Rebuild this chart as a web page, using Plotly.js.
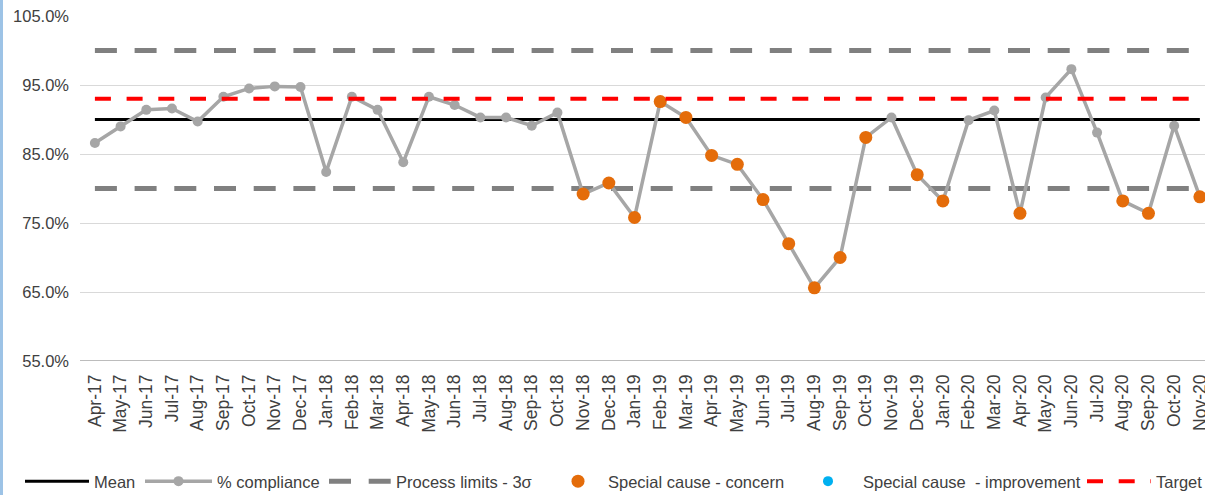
<!DOCTYPE html>
<html>
<head>
<meta charset="utf-8">
<script src="https://cdn.plot.ly/plotly-3.0.1.min.js"></script>
<style>
  html, body { margin: 0; padding: 0; background: #fff; }
  #wrap { position: relative; width: 1205px; height: 495px; overflow: hidden; }
  #chart { position: absolute; left: 0; top: 0; width: 1205px; height: 495px; }
  #bar { position: absolute; left: 0; top: 0; width: 3px; height: 495px; background: #9DC3E6; }
</style>
</head>
<body>
<div id="wrap"><div id="chart"></div><div id="bar"></div></div>
<script>
const months = ["Apr-17","May-17","Jun-17","Jul-17","Aug-17","Sep-17","Oct-17","Nov-17","Dec-17",
  "Jan-18","Feb-18","Mar-18","Apr-18","May-18","Jun-18","Jul-18","Aug-18","Sep-18","Oct-18","Nov-18","Dec-18",
  "Jan-19","Feb-19","Mar-19","Apr-19","May-19","Jun-19","Jul-19","Aug-19","Sep-19","Oct-19","Nov-19","Dec-19",
  "Jan-20","Feb-20","Mar-20","Apr-20","May-20","Jun-20","Jul-20","Aug-20","Sep-20","Oct-20","Nov-20"];

const compliance = [86.6, 89.0, 91.4, 91.6, 89.7, 93.3, 94.5, 94.8, 94.7,
  82.4, 93.3, 91.4, 83.8, 93.3, 92.1, 90.3, 90.3, 89.1, 91.0, 79.2, 80.8,
  75.8, 92.6, 90.3, 84.8, 83.5, 78.4, 72.0, 65.6, 70.0, 87.4, 90.3, 82.0,
  78.2, 89.9, 91.3, 76.4, 93.2, 97.3, 88.1, 78.2, 76.4, 89.1, 78.8];

const concern = [null, null, null, null, null, null, null, null, null,
  null, null, null, null, null, null, null, null, null, null, 79.2, 80.8,
  75.8, 92.6, 90.3, 84.8, 83.5, 78.4, 72.0, 65.6, 70.0, 87.4, null, 82.0,
  78.2, null, null, 76.4, null, null, null, 78.2, 76.4, null, 78.8];

const improvement = months.map(() => null);

const meanValue = 90.0;
const upperLimit = 100.0;
const lowerLimit = 80.0;
const targetValue = 93.0;

const meanLine = months.map(() => meanValue);
const upperLine = months.map(() => upperLimit);
const lowerLine = months.map(() => lowerLimit);
const targetLine = months.map(() => targetValue);

const yTicks = [55, 65, 75, 85, 95, 105];
const yTickText = ["55.0%", "65.0%", "75.0%", "85.0%", "95.0%", "105.0%"];

const FONT = "Liberation Sans, Arial, sans-serif";
const TXT = "#404040";

const traces = [
  { name: "Mean", x: months, y: meanLine, type: "scatter", mode: "lines",
    line: { color: "#000000", width: 3 }, legend: "legend" },
  { name: "Process limits - 3σ", x: months, y: upperLine, type: "scatter", mode: "lines",
    line: { color: "#808080", width: 5, dash: "22px,17.7px" }, legend: "legend3" },
  { name: "Process limits - 3σ", x: months, y: lowerLine, type: "scatter", mode: "lines",
    line: { color: "#808080", width: 5, dash: "22px,17.7px" }, showlegend: false },
  { name: "% compliance", x: months, y: compliance, type: "scatter", mode: "lines+markers",
    line: { color: "#A6A6A6", width: 3.5 }, marker: { color: "#A6A6A6", size: 10 }, legend: "legend2" },
  { name: "Special cause - concern", x: months, y: concern, type: "scatter", mode: "markers",
    marker: { color: "#E46C0A", size: 13 }, legend: "legend4" },
  { name: "Special cause  - improvement", x: months, y: improvement, type: "scatter", mode: "markers",
    marker: { color: "#00B0F0", size: 10 }, legend: "legend5" },
  { name: "Target", x: months, y: targetLine, type: "scatter", mode: "lines",
    line: { color: "#FF0000", width: 4, dash: "16px,15.7px" }, legend: "legend6" }
];

const PL = 80, PW = 1125;
function leg(px, iw) {
  return {
    orientation: "h", x: (px - PL) / PW, xanchor: "left", y: -0.349, yanchor: "middle",
    font: { size: 16.5, color: TXT, family: FONT }, itemwidth: iw,
    bgcolor: "rgba(0,0,0,0)", borderwidth: 0
  };
}

const layout = {
  width: 1205, height: 495,
  margin: { l: 80, r: 0, t: 16, b: 134, autoexpand: false },
  paper_bgcolor: "#ffffff", plot_bgcolor: "#ffffff",
  font: { family: FONT, color: TXT, size: 15 },
  showlegend: true,
  xaxis: {
    type: "category", categoryorder: "array", categoryarray: months,
    range: [-0.58, 43.2], tickangle: -90, showgrid: false, zeroline: false,
    showline: false, ticks: "", ticklabelstandoff: 9, automargin: false,
    tickfont: { size: 17.5, color: TXT, family: FONT }, fixedrange: true
  },
  yaxis: {
    range: [55, 105], tickvals: yTicks, ticktext: yTickText,
    showgrid: true, gridcolor: "#D9D9D9", gridwidth: 1, zeroline: false,
    showline: false, ticks: "", ticklabelstandoff: 10, automargin: false,
    tickfont: { size: 16.5, color: TXT, family: FONT }, fixedrange: true
  },
  shapes: [
    { type: "line", xref: "paper", yref: "y", x0: 0, x1: 1, y0: 55, y1: 55,
      line: { color: "#A6A6A6", width: 1.5 }, layer: "below" }
  ],
  legend: leg(20, 64),
  legend2: leg(140, 67),
  legend3: leg(324, 62),
  legend4: leg(548, 50),
  legend5: leg(793, 60),
  legend6: leg(1082, 64)
};

Plotly.newPlot("chart", traces, layout, { displayModeBar: false, staticPlot: true });
</script>
</body>
</html>
